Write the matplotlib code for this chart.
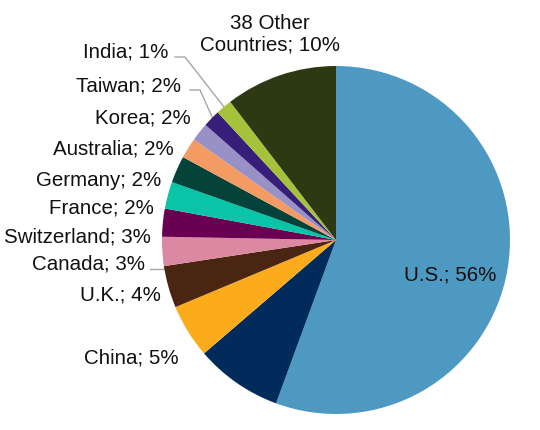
import numpy as np
import matplotlib

matplotlib.use("Agg")

import matplotlib.pyplot as plt

plt.rcParams["font.family"] = ["Liberation Sans", "DejaVu Sans"]

# shares, in pie order (clockwise from 12 o'clock)
countries = ["U.S.", "", "China", "U.K.", "Canada", "Switzerland", "France",
             "Germany", "Australia", "Korea", "Taiwan", "India",
             "38 Other\nCountries"]
shares = [55.6, 8.1, 5.0, 3.9, 2.7, 2.6, 2.5, 2.5, 1.9, 1.7, 1.6, 1.5, 10.4]
shown_pct = [56, 8, 5, 4, 3, 3, 2, 2, 2, 2, 2, 1, 10]
colors = ["#4E99C1", "#012B5B", "#FCAB1C", "#4A2512", "#DD88A3", "#690051",
          "#09C4A7", "#05423A", "#F49A63", "#9791C6", "#371F79", "#A5C23A",
          "#2C3912"]

W, H = 540, 431
CX, CY, R = 336, 241, 174


def px(x, y):
    # pixel coords (origin top-left) -> data coords
    return x, H - y


fig = plt.figure(figsize=(W / 100, H / 100), dpi=100)
ax = fig.add_axes([0, 0, 1, 1])

wedges, _ = ax.pie(shares, colors=colors, startangle=90, counterclock=False,
                   center=px(CX, CY), radius=R, frame=True)
ax.set_xlim(0, W)
ax.set_ylim(0, H)
ax.set_aspect("equal")
ax.axis("off")

# label anchor (right edge x, centre y) in pixels; U.S. / Others centred
label_xy = {
    0: (450, 275, "center"),
    2: (179, 358, "right"),
    3: (161, 295, "right"),
    4: (145, 264, "right"),
    5: (151, 237, "right"),
    6: (154, 208, "right"),
    7: (161, 180, "right"),
    8: (174, 149, "right"),
    9: (191, 118, "right"),
    10: (181, 86, "right"),
    11: (168, 52, "right"),
    12: (270, 34, "center"),
}
leaders = {11: (175, 58), 10: (190, 91), 4: (150, 270)}

for i, (x, y, ha) in label_xy.items():
    txt = f"{countries[i]}; {shown_pct[i]}%"
    ax.text(*px(x, y), txt, ha=ha, va="center", fontsize=14.8,
            color="#111111", linespacing=1.15)

for i, (x0, y0) in leaders.items():
    w = wedges[i]
    mid = np.deg2rad((w.theta1 + w.theta2) / 2)
    ex = CX + 0.98 * R * np.cos(mid)
    ey = CY - 0.98 * R * np.sin(mid)
    if i == 4:
        xs = [x0, ex - 2, ex - 2]
        ys = [y0, y0, ey]
    else:
        xs = [x0, x0 + 10, ex]
        ys = [y0, y0, ey]
    ax.plot(xs, [H - v for v in ys], color="#A6A6A6", lw=1.0, zorder=0)

fig.savefig("out.png", dpi=100)
plt.close(fig)
